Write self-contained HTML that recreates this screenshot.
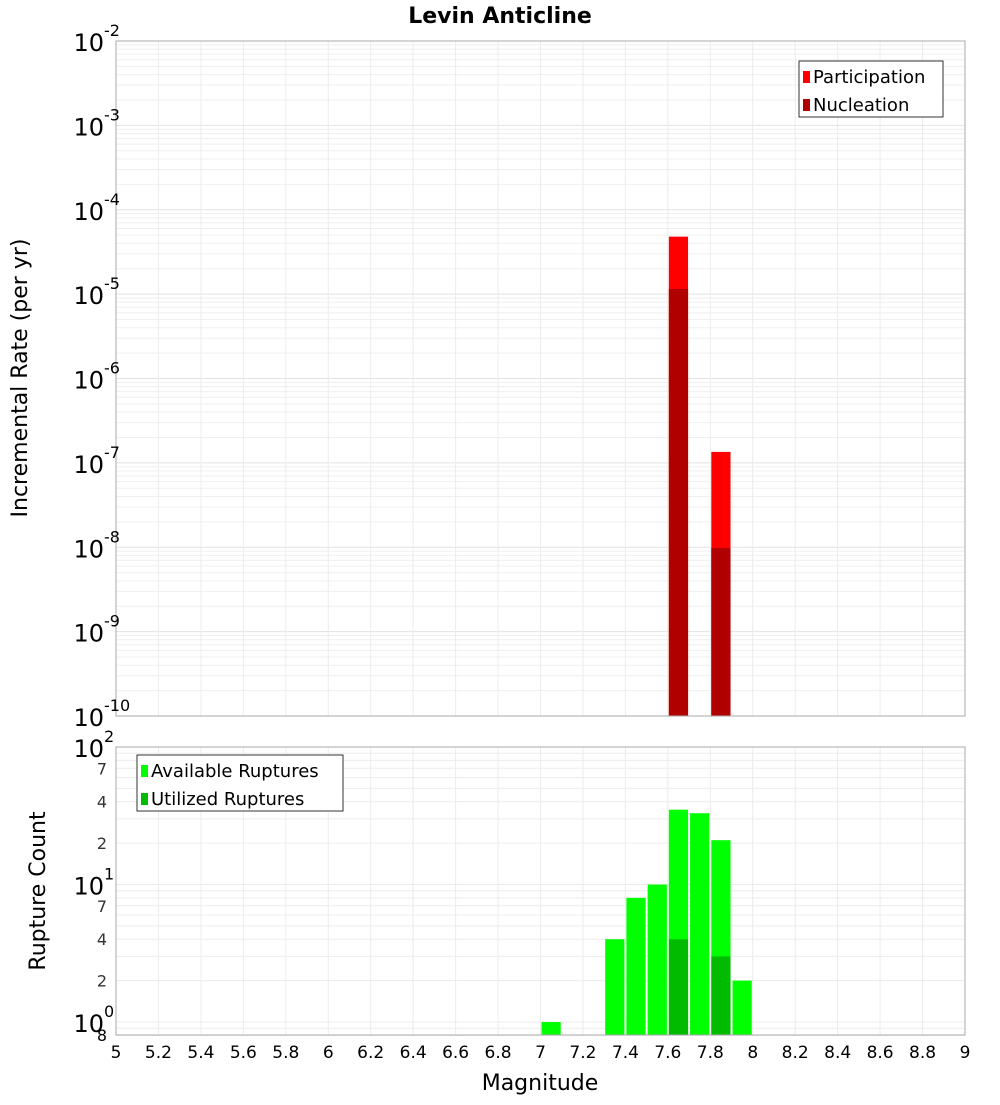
<!DOCTYPE html>
<html><head><meta charset="utf-8"><style>body{margin:0;background:#fff}svg{font-family:"DejaVu Sans","Liberation Sans",sans-serif}</style></head>
<body>
<svg id="c" width="1000" height="1100" xmlns="http://www.w3.org/2000/svg"></svg>
<script>
const mags=[7.05,7.35,7.45,7.55,7.65,7.75,7.85,7.95];
const partMags=[7.65,7.85];
const participation=[4.8e-5,1.35e-7];
const nucleation=[1.15e-5,9.8e-9];
const available=[1,4,8,10,35,33,21,2];
const utilizedMags=[7.65,7.85];
const utilized=[4,3];
const xTicks=[5,5.2,5.4,5.6,5.8,6,6.2,6.4,6.6,6.8,7,7.2,7.4,7.6,7.8,8,8.2,8.4,8.6,8.8,9];
const topExps=[-2,-3,-4,-5,-6,-7,-8,-9,-10];
const botMinor=[2,4,7];

const NS="http://www.w3.org/2000/svg",svg=document.getElementById('c');
function el(t,a,txt,p){const e=document.createElementNS(NS,t);for(const k in a)e.setAttribute(k,a[k]);if(txt!=null)e.textContent=txt;(p||svg).appendChild(e);return e;}
const X0=116,X1=965;
const x=v=>X0+(v-5)/4*(X1-X0);
const T0=41,T1=716;
const yT=v=>T0+(-2-Math.log10(v))/8*(T1-T0);
const B0=747,B1=1035,BD=137.5;
const yB=v=>B0+(2-Math.log10(v))*BD;

// top panel grid
let g=el('g',{});
for(let d=-10;d<-2;d++)for(let m=1;m<10;m++){const yy=yT(m*Math.pow(10,d));el('line',{x1:X0,x2:X1,y1:yy,y2:yy,stroke:m==1?'#e2e2e2':'#efefef','stroke-width':1},null,g);}
xTicks.forEach(t=>el('line',{x1:x(t),x2:x(t),y1:T0,y2:T1,stroke:'#ececec'},null,g));
// bottom grid
let g2=el('g',{});
[0.8,0.9,1,2,3,4,5,6,7,8,9,10,20,30,40,50,60,70,80,90].forEach(v=>{const yy=yB(v);el('line',{x1:X0,x2:X1,y1:yy,y2:yy,stroke:'#ececec'},null,g2);});
xTicks.forEach(t=>el('line',{x1:x(t),x2:x(t),y1:B0,y2:B1,stroke:'#ececec'},null,g2));

const bw=(X1-X0)/40;
function bar(m,top,bot,fill,name){const r=el('rect',{x:x(m)-bw/2+1,y:top,width:bw-2,height:bot-top,fill:fill});}
partMags.forEach((m,i)=>bar(m,yT(participation[i]),T1,'#ff0000','participation-bar'));
partMags.forEach((m,i)=>bar(m,yT(nucleation[i]),T1,'#b00000','nucleation-bar'));
mags.forEach((m,i)=>bar(m,yB(available[i]),B1,'#00ff00','available-bar'));
utilizedMags.forEach((m,i)=>bar(m,yB(utilized[i]),B1,'#00bb00','utilized-bar'));

el('rect',{x:X0,y:T0,width:X1-X0,height:T1-T0,fill:'none',stroke:'#aaa'});
el('rect',{x:X0,y:B0,width:X1-X0,height:B1-B0,fill:'none',stroke:'#aaa'});

// top y labels
topExps.forEach(e=>{const yy=yT(Math.pow(10,e));const t=el('text',{x:104,y:yy+10,'font-size':24,'text-anchor':'end'},'10');
el('text',{x:104,y:yy-5,'font-size':16},String(e));});
// bottom y labels
[[100,'2'],[10,'1'],[1,'0']].forEach(([v,e])=>{const yy=yB(v);el('text',{x:104,y:yy+10,'font-size':24,'text-anchor':'end'},'10');el('text',{x:104,y:yy-5,'font-size':16},e);});
[1,10].forEach(dec=>botMinor.forEach(m=>el('text',{x:107,y:yB(m*dec)+6,'font-size':16,'text-anchor':'end',fill:'#333'},String(m))));
el('text',{x:107,y:1041,'font-size':16,'text-anchor':'end'},'8');
// x labels
xTicks.forEach(t=>{const e=el('text',{x:x(t),y:1058,'font-size':17,'text-anchor':'middle'},String(t));});

let t;
t=el('text',{x:500,y:23,'font-size':22,'font-weight':'bold','text-anchor':'middle'},'Levin Anticline');
t=el('text',{x:540,y:1090,'font-size':22,'text-anchor':'middle'},'Magnitude');
t=el('text',{x:27,y:378,'font-size':22,'text-anchor':'middle',transform:'rotate(-90 27 378)'},'Incremental Rate (per yr)');
t=el('text',{x:45,y:891,'font-size':22,'text-anchor':'middle',transform:'rotate(-90 45 891)'},'Rupture Count');

function legend(x0,y0,w,items,name){const lg=el('g',{});
el('rect',{x:x0,y:y0,width:w,height:56,fill:'#fff',stroke:'#333'},null,lg);
items.forEach((it,i)=>{el('rect',{x:x0+4,y:y0+10+i*28,width:7,height:12,fill:it[1]},null,lg);el('text',{x:x0+14,y:y0+22+i*28,'font-size':18},it[0],lg);});}
legend(799,61,144,[['Participation','#ff0000'],['Nucleation','#b00000']],'legend-top');
legend(137,755,206,[['Available Ruptures','#00ff00'],['Utilized Ruptures','#00bb00']],'legend-bottom');
</script>
</body></html>
